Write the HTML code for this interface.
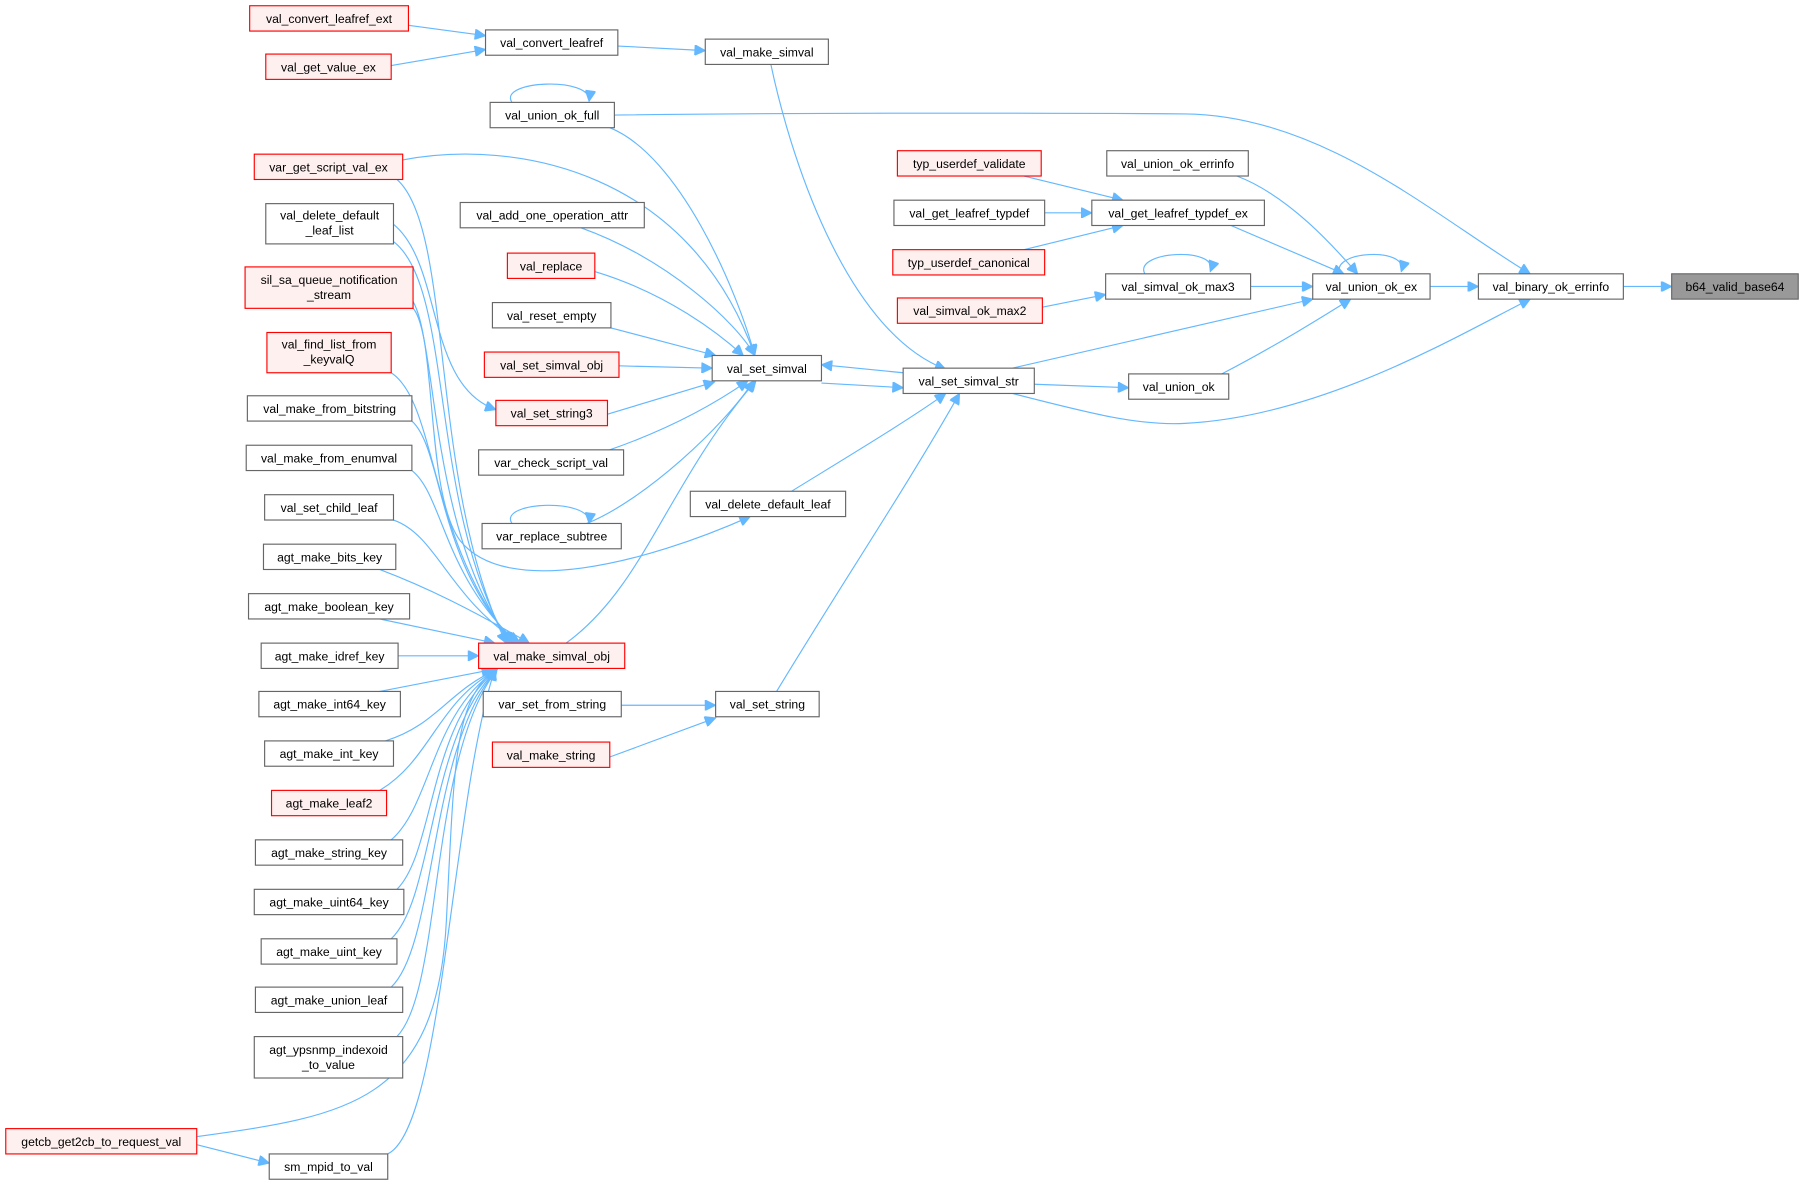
<!DOCTYPE html>
<html><head><meta charset="utf-8"><style>
html,body{margin:0;padding:0;background:#fff;}
svg{display:block;}
text{font-family:"Liberation Sans",Arial,sans-serif;font-size:10.6px;fill:#000;text-anchor:middle;}
.n{fill:#fff;stroke:#666;stroke-width:1;}
.r{fill:#fff0f0;stroke:#ff0000;stroke-width:1;}
.g{fill:#999;stroke:#666;stroke-width:1;}
path.e{fill:none;stroke:#63b8ff;stroke-width:1;marker-end:url(#a);}
</style></head><body>
<svg width="1804" height="1185" viewBox="0 0 1568 1030" xmlns="http://www.w3.org/2000/svg">
<defs><marker id="a" viewBox="0 0 10 10" refX="10" refY="5" markerWidth="11" markerHeight="9" markerUnits="userSpaceOnUse" orient="auto"><path d="M0,0 L10,5 L0,10 z" fill="#63b8ff" stroke="#63b8ff"/></marker></defs>

<!-- edges -->
<path class="e" d="M355,22 L422,31"/>
<path class="e" d="M340,57 L422,43"/>
<path class="e" d="M537,40 L613,44"/>
<path class="e" d="M670,56 C690,150 740,290 822,321"/>
<path class="e" d="M445,89 C432,70 515,66 512,88"/>
<path class="e" d="M534,100 C700,98 900,98 1030,99 C1150,100 1250,190 1330,238"/>
<path class="e" d="M530,111 C590,135 640,250 656,309"/>
<path class="e" d="M350,139 C450,120 600,150 656,309"/>
<path class="e" d="M505,198 C580,225 640,280 656,309"/>
<path class="e" d="M517,236 C580,255 625,290 646,309"/>
<path class="e" d="M531,285 L622,309"/>
<path class="e" d="M538,318 L619,320"/>
<path class="e" d="M528,360 L621,332"/>
<path class="e" d="M530,391 C590,370 630,345 650,331"/>
<path class="e" d="M510,455 C560,435 630,370 655,331"/>
<path class="e" d="M445,455 C432,436 515,432 512,455"/>
<path class="e" d="M492,559 C560,510 580,420 657,331"/>
<path class="e" d="M714,333 L785,337"/>
<path class="e" d="M785,324 L714,317"/>
<path class="e" d="M688,427 C740,395 790,365 822,342"/>
<path class="e" d="M675,601 C730,510 790,420 834,342"/>
<path class="e" d="M540,613 L622,613"/>
<path class="e" d="M530,658 L622,624"/>
<path class="e" d="M342,195 C385,230 370,335 431,356"/>
<path class="e" d="M359,262 C380,300 370,430 400,470 C440,520 560,490 652,449"/>
<!-- to make_simval_obj (above) -->
<path class="e" d="M345,156 C395,200 372,420 440,559"/>
<path class="e" d="M342,210 C395,250 372,440 442,559"/>
<path class="e" d="M359,268 C380,290 372,460 444,559"/>
<path class="e" d="M340,324 C380,350 372,470 446,559"/>
<path class="e" d="M358,366 C385,390 380,490 448,559"/>
<path class="e" d="M358,409 C385,430 385,500 450,559"/>
<path class="e" d="M342,452 C380,465 390,520 452,559"/>
<path class="e" d="M330,495 C370,510 410,530 460,559"/>
<path class="e" d="M330,538 L430,559"/>
<path class="e" d="M346,570 L416,570"/>
<!-- to make_simval_obj (below) -->
<path class="e" d="M330,601 L428,582"/>
<path class="e" d="M335,644 C380,630 390,600 432,582"/>
<path class="e" d="M330,687 C375,660 380,610 432,582"/>
<path class="e" d="M340,730 C375,700 375,620 432,582"/>
<path class="e" d="M345,773 C378,740 372,630 432,582"/>
<path class="e" d="M340,816 C378,780 372,640 432,582"/>
<path class="e" d="M340,858 C380,820 372,650 432,582"/>
<path class="e" d="M345,901 C385,860 372,660 432,582"/>
<path class="e" d="M171,988 C300,970 380,960 388,800 C395,660 395,610 430,582"/>
<path class="e" d="M337,1003 C385,980 392,700 430,582"/>
<path class="e" d="M171,995 L234,1011"/>
<!-- right side -->
<path class="e" d="M890,153 L976,174"/>
<path class="e" d="M908,185 L949,185"/>
<path class="e" d="M890,217 L976,196"/>
<path class="e" d="M1075,153 C1120,170 1160,215 1180,238"/>
<path class="e" d="M1070,196 L1168,238"/>
<path class="e" d="M906,267 L961,256"/>
<path class="e" d="M995,238 C985,218 1060,214 1052,236"/>
<path class="e" d="M1087,249 L1141,249"/>
<path class="e" d="M1165,238 C1155,218 1225,214 1218,236"/>
<path class="e" d="M880,320 L1141,260"/>
<path class="e" d="M1062,325 C1110,300 1150,275 1174,260"/>
<path class="e" d="M899,334 L981,337"/>
<path class="e" d="M880,342 C950,360 990,370 1030,368 C1150,362 1270,290 1330,260"/>
<path class="e" d="M1243,249 L1285,249"/>
<path class="e" d="M1411,249 L1453,249"/>

<!-- nodes -->
<g>
<rect class="r" x="217" y="5" width="138" height="22"/><text x="286" y="20">val_convert_leafref_ext</text>
<rect class="r" x="231" y="47" width="109" height="22"/><text x="285.5" y="62">val_get_value_ex</text>
<rect class="r" x="221" y="134" width="129" height="22"/><text x="285.5" y="149">var_get_script_val_ex</text>
<rect class="n" x="231" y="177" width="111" height="35"/><text x="286.5" y="191">val_delete_default</text><text x="286.5" y="204">_leaf_list</text>
<rect class="r" x="213" y="232" width="146" height="36"/><text x="286" y="247">sil_sa_queue_notification</text><text x="286" y="260">_stream</text>
<rect class="r" x="232" y="289" width="108" height="35"/><text x="286" y="303">val_find_list_from</text><text x="286" y="316">_keyvalQ</text>
<rect class="n" x="215" y="344" width="143" height="22"/><text x="286.5" y="359">val_make_from_bitstring</text>
<rect class="n" x="214" y="387" width="144" height="22"/><text x="286" y="402">val_make_from_enumval</text>
<rect class="n" x="230" y="430" width="112" height="22"/><text x="286" y="445">val_set_child_leaf</text>
<rect class="n" x="229" y="473" width="115" height="22"/><text x="286.5" y="488">agt_make_bits_key</text>
<rect class="n" x="216" y="516" width="140" height="22"/><text x="286" y="531">agt_make_boolean_key</text>
<rect class="n" x="227" y="559" width="119" height="22"/><text x="286.5" y="574">agt_make_idref_key</text>
<rect class="n" x="225" y="601" width="123" height="22"/><text x="286.5" y="616">agt_make_int64_key</text>
<rect class="n" x="230" y="644" width="112" height="22"/><text x="286" y="659">agt_make_int_key</text>
<rect class="r" x="236" y="687" width="100" height="22"/><text x="286" y="702">agt_make_leaf2</text>
<rect class="n" x="222" y="730" width="128" height="22"/><text x="286" y="745">agt_make_string_key</text>
<rect class="n" x="221" y="773" width="130" height="22"/><text x="286" y="788">agt_make_uint64_key</text>
<rect class="n" x="227" y="816" width="118" height="22"/><text x="286" y="831">agt_make_uint_key</text>
<rect class="n" x="222" y="858" width="128" height="22"/><text x="286" y="873">agt_make_union_leaf</text>
<rect class="n" x="221" y="901" width="129" height="36"/><text x="285.5" y="916">agt_ypsnmp_indexoid</text><text x="285.5" y="929">_to_value</text>
<rect class="r" x="5" y="981" width="166" height="22"/><text x="88" y="996">getcb_get2cb_to_request_val</text>
<rect class="n" x="234" y="1003" width="103" height="22"/><text x="285.5" y="1018">sm_mpid_to_val</text>

<rect class="n" x="422" y="26" width="115" height="22"/><text x="479.5" y="41">val_convert_leafref</text>
<rect class="n" x="426" y="89" width="108" height="22"/><text x="480" y="104">val_union_ok_full</text>
<rect class="n" x="400" y="176" width="160" height="22"/><text x="480" y="191">val_add_one_operation_attr</text>
<rect class="r" x="441" y="220" width="76" height="22"/><text x="479" y="235">val_replace</text>
<rect class="n" x="428" y="263" width="103" height="22"/><text x="479.5" y="278">val_reset_empty</text>
<rect class="r" x="421" y="306" width="117" height="22"/><text x="479.5" y="321">val_set_simval_obj</text>
<rect class="r" x="431" y="348" width="97" height="22"/><text x="479.5" y="363">val_set_string3</text>
<rect class="n" x="416" y="391" width="126" height="22"/><text x="479" y="406">var_check_script_val</text>
<rect class="n" x="419" y="455" width="121" height="22"/><text x="479.5" y="470">var_replace_subtree</text>
<rect class="r" x="416" y="559" width="127" height="22"/><text x="479.5" y="574">val_make_simval_obj</text>
<rect class="n" x="420" y="601" width="120" height="22"/><text x="480" y="616">var_set_from_string</text>
<rect class="r" x="428" y="645" width="102" height="22"/><text x="479" y="660">val_make_string</text>

<rect class="n" x="613" y="34" width="107" height="22"/><text x="666.5" y="49">val_make_simval</text>
<rect class="n" x="619" y="309" width="95" height="22"/><text x="666.5" y="324">val_set_simval</text>
<rect class="n" x="600" y="427" width="135" height="22"/><text x="667.5" y="442">val_delete_default_leaf</text>
<rect class="n" x="622" y="601" width="90" height="22"/><text x="667" y="616">val_set_string</text>

<rect class="n" x="785" y="320" width="114" height="22"/><text x="842" y="335">val_set_simval_str</text>
<rect class="r" x="780" y="131" width="125" height="22"/><text x="842.5" y="146">typ_userdef_validate</text>
<rect class="n" x="777" y="174" width="131" height="22"/><text x="842.5" y="189">val_get_leafref_typdef</text>
<rect class="r" x="776" y="217" width="132" height="22"/><text x="842" y="232">typ_userdef_canonical</text>
<rect class="r" x="780" y="259" width="126" height="22"/><text x="843" y="274">val_simval_ok_max2</text>

<rect class="n" x="962" y="131" width="123" height="22"/><text x="1023.5" y="146">val_union_ok_errinfo</text>
<rect class="n" x="949" y="174" width="150" height="22"/><text x="1024" y="189">val_get_leafref_typdef_ex</text>
<rect class="n" x="961" y="238" width="126" height="22"/><text x="1024" y="253">val_simval_ok_max3</text>
<rect class="n" x="981" y="325" width="87" height="22"/><text x="1024.5" y="340">val_union_ok</text>

<rect class="n" x="1141" y="238" width="102" height="22"/><text x="1192" y="253">val_union_ok_ex</text>
<rect class="n" x="1285" y="238" width="126" height="22"/><text x="1348" y="253">val_binary_ok_errinfo</text>
<rect class="g" x="1453" y="238" width="110" height="22"/><text x="1508" y="253">b64_valid_base64</text>
</g>
</svg>
</body></html>
